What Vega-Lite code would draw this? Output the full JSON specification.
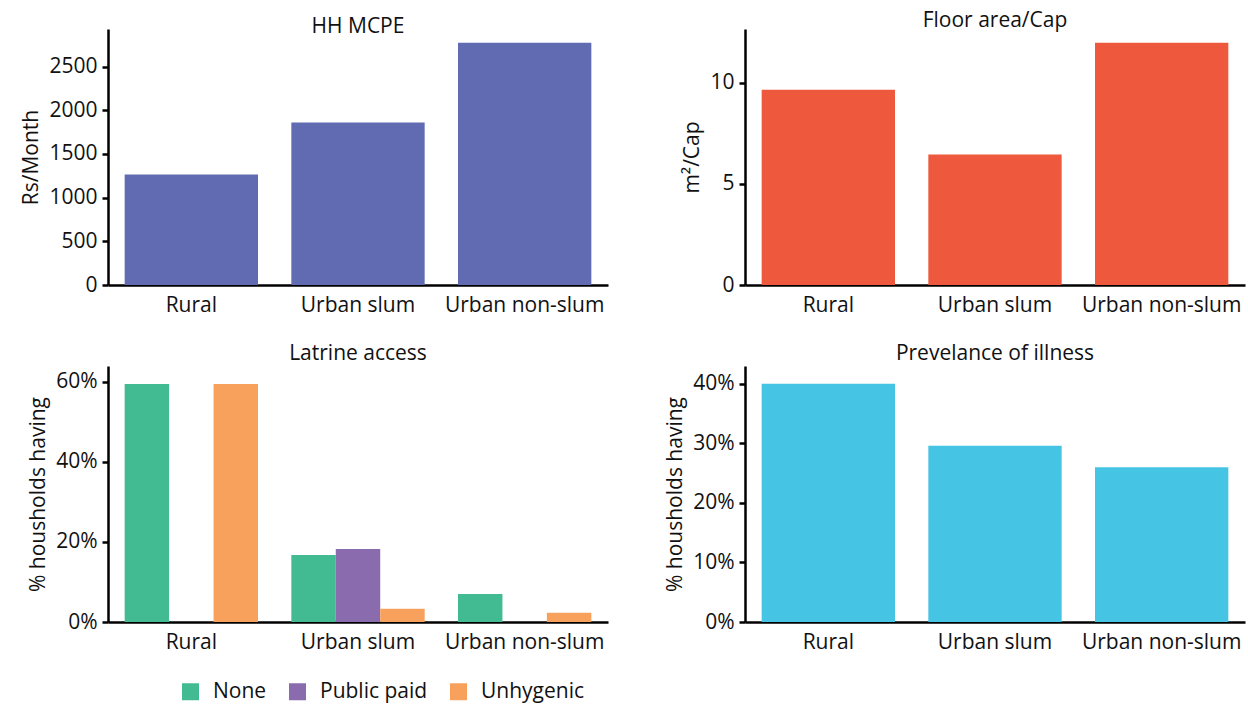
{
  "$schema": "https://vega.github.io/schema/vega-lite/v6.json",
  "padding": {"left": 20, "top": 10, "right": 5, "bottom": 10},
  "background": "white",
  "config": {
    "font": "Open Sans",
    "view": {"stroke": null},
    "axis": {
      "labelFont": "Open Sans", "labelFontSize": 21, "labelColor": "#111",
      "titleFont": "Open Sans", "titleFontSize": 21, "titleFontWeight": "normal", "titleColor": "#111",
      "domainColor": "#000", "domainWidth": 2.5, "tickColor": "#000", "tickWidth": 2.5, "tickSize": 6, "grid": false
    },
    "axisX": {"ticks": false, "labelAngle": 0, "title": null, "labelPadding": 9},
    "axisY": {"labelPadding": 5, "titlePadding": 7},
    "title": {"font": "Open Sans", "fontSize": 21, "fontWeight": "normal", "color": "#111", "anchor": "middle"},
    "legend": {
      "symbolType": "square", "symbolSize": 289, "labelFontSize": 21, "labelFont": "Open Sans",
      "labelColor": "#111", "columnPadding": 20, "labelOffset": 12, "symbolStrokeWidth": 0
    }
  },
  "datasets": {
    "mcpe": [
      {"area": "Rural", "value": 1265},
      {"area": "Urban slum", "value": 1860},
      {"area": "Urban non-slum", "value": 2774}
    ],
    "floor": [
      {"area": "Rural", "value": 9.65},
      {"area": "Urban slum", "value": 6.45},
      {"area": "Urban non-slum", "value": 11.97}
    ],
    "latrine": [
      {"area": "Rural", "type": "None", "value": 0.594},
      {"area": "Rural", "type": "Unhygenic", "value": 0.594},
      {"area": "Urban slum", "type": "None", "value": 0.167},
      {"area": "Urban slum", "type": "Public paid", "value": 0.182},
      {"area": "Urban slum", "type": "Unhygenic", "value": 0.033},
      {"area": "Urban non-slum", "type": "None", "value": 0.070},
      {"area": "Urban non-slum", "type": "Unhygenic", "value": 0.023}
    ],
    "illness": [
      {"area": "Rural", "value": 0.40},
      {"area": "Urban slum", "value": 0.296},
      {"area": "Urban non-slum", "value": 0.260}
    ]
  },
  "columns": 2,
  "spacing": {"row": 28, "column": 56},
  "concat": [
    {
      "title": {"text": "HH MCPE", "offset": -8},
      "width": 500, "height": 256,
      "data": {"name": "mcpe"},
      "mark": {"type": "bar", "color": "#606BB1"},
      "encoding": {
        "x": {"field": "area", "type": "nominal", "sort": ["Rural", "Urban slum", "Urban non-slum"], "scale": {"paddingInner": 0.2, "paddingOuter": 0.1}},
        "y": {"field": "value", "type": "quantitative", "scale": {"domain": [0, 2930], "nice": false}, "axis": {"title": "Rs/Month", "values": [0, 500, 1000, 1500, 2000, 2500], "format": "d"}}
      }
    },
    {
      "title": {"text": "Floor area/Cap", "offset": -2},
      "width": 500, "height": 256,
      "data": {"name": "floor"},
      "mark": {"type": "bar", "color": "#EE583D"},
      "encoding": {
        "x": {"field": "area", "type": "nominal", "sort": ["Rural", "Urban slum", "Urban non-slum"], "scale": {"paddingInner": 0.2, "paddingOuter": 0.1}},
        "y": {"field": "value", "type": "quantitative", "scale": {"domain": [0, 12.65], "nice": false}, "axis": {"title": "m²/Cap", "values": [0, 5, 10]}}
      }
    },
    {
      "title": {"text": "Latrine access", "offset": 2},
      "width": 500, "height": 256,
      "data": {"name": "latrine"},
      "mark": {"type": "bar"},
      "encoding": {
        "x": {"field": "area", "type": "nominal", "sort": ["Rural", "Urban slum", "Urban non-slum"], "scale": {"paddingInner": 0.2, "paddingOuter": 0.1}},
        "xOffset": {"field": "type", "type": "nominal", "scale": {"domain": ["None", "Public paid", "Unhygenic"], "paddingInner": 0, "paddingOuter": 0}},
        "y": {"field": "value", "type": "quantitative", "scale": {"domain": [0, 0.639], "nice": false}, "axis": {"title": "% housholds having", "values": [0, 0.2, 0.4, 0.6], "format": ".0%"}},
        "color": {"field": "type", "type": "nominal", "scale": {"domain": ["None", "Public paid", "Unhygenic"], "range": ["#42BB93", "#8A6BAE", "#F8A15C"]}, "legend": {"orient": "none", "legendX": 72, "legendY": 652, "direction": "horizontal", "title": null}}
      }
    },
    {
      "title": {"text": "Prevelance of illness", "offset": 2},
      "width": 500, "height": 256,
      "data": {"name": "illness"},
      "mark": {"type": "bar", "color": "#45C4E4"},
      "encoding": {
        "x": {"field": "area", "type": "nominal", "sort": ["Rural", "Urban slum", "Urban non-slum"], "scale": {"paddingInner": 0.2, "paddingOuter": 0.1}},
        "y": {"field": "value", "type": "quantitative", "scale": {"domain": [0, 0.43], "nice": false}, "axis": {"title": "% housholds having", "values": [0, 0.1, 0.2, 0.3, 0.4], "format": ".0%"}}
      }
    }
  ]
}
